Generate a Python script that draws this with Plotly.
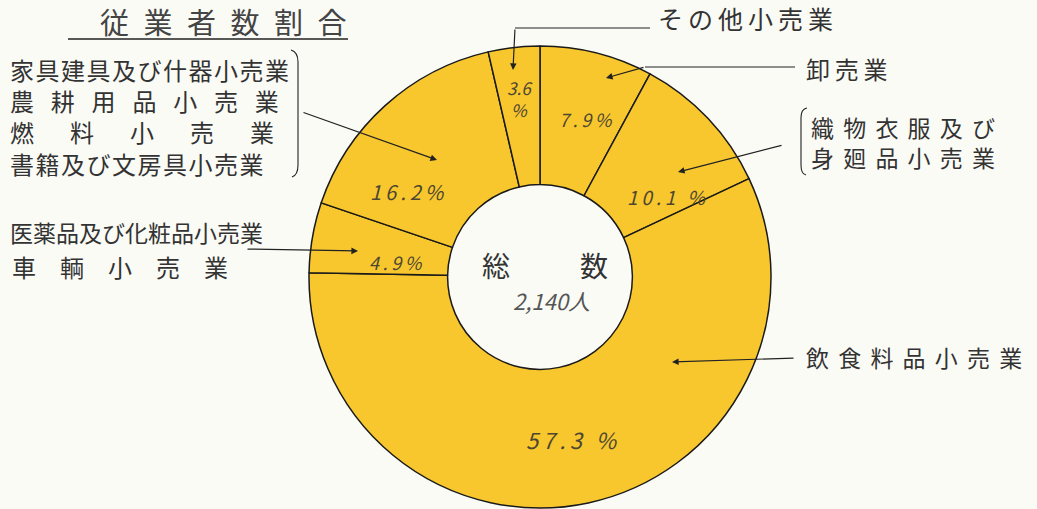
import math
import plotly.graph_objects as go

W, H = 1037, 509

# ---- data (clockwise from 12 o'clock) ----
categories = ["卸売業", "織物衣服及び身廻品小売業", "飲食料品小売業",
              "医薬品及び化粧品小売業・車輌小売業",
              "家具建具及び什器・農耕用品・燃料・書籍及び文房具小売業",
              "その他小売業"]
shares = [7.9, 10.1, 57.3, 4.9, 16.2, 3.6]
pct_labels = ["7.9%", "10.1 %", "57.3 %", "4.9%", "16.2%", "3.6<br>%"]
title_text = "従業者数割合"
center_label = "総\u3000\u3000\u2002数"
total_label = "2,140人"

# label placement nudges (style only): extra degrees, radius in px
label_angle_nudge = [2, 11, 1, -4, -15, 0]
label_radius = [165, 150, 165, 145, 158, 180]
label_size = [18, 19, 22, 18, 20, 17]
label_sep = ["\u2009", "\u2009", "\u2009", "\u2009", "\u2009", ""]

JP = "Noto Sans CJK JP"
INK = "#333333"
FILL = "#F8C72E"

CX, CY = 540, 277
R_OUT = 231


def px(x, y):
    return x / W, 1 - y / H


def spaced(s, sep):
    return sep.join(list(s))


fig = go.Figure()
fig.add_trace(go.Pie(
    labels=categories, values=shares, sort=False, direction="clockwise",
    rotation=0, hole=0.40,
    marker=dict(colors=[FILL] * len(shares), line=dict(color="#1a1a1a", width=1.5)),
    textinfo="none",
    domain=dict(x=[(CX - R_OUT) / W, (CX + R_OUT) / W],
                y=[1 - (CY + R_OUT) / H, 1 - (CY - R_OUT) / H]),
    showlegend=False, hoverinfo="label+percent",
))

ann = []
shapes = []


def text(x, y, s, size=24, anchor="left", italic=False, color=INK):
    xx, yy = px(x, y)
    ann.append(dict(x=xx, y=yy, xref="paper", yref="paper", text=s, showarrow=False,
                    xanchor=anchor, yanchor="middle", align="left" if anchor == "left" else "center",
                    font=dict(family=JP, size=size, color=color,
                              style="italic" if italic else "normal")))


def line(x0, y0, x1, y1, w=1.2):
    a, b = px(x0, y0)
    c, d = px(x1, y1)
    shapes.append(dict(type="line", xref="paper", yref="paper", x0=a, y0=b, x1=c, y1=d,
                       line=dict(color="#222222", width=w)))


def arrow(x0, y0, x1, y1):
    tx, ty = px(x1, y1)
    ann.append(dict(x=tx, y=ty, xref="paper", yref="paper", ax=x0 - x1, ay=y0 - y1,
                    axref="pixel", ayref="pixel", text="", showarrow=True,
                    arrowhead=2, arrowsize=1.1, arrowwidth=1.2, arrowcolor="#222222"))


# percentage labels at slice mid-angles
total = sum(shares)
cum = 0.0
for i, v in enumerate(shares):
    mid = (cum + v / 2) / total * 360 + label_angle_nudge[i]
    cum += v
    a = math.radians(mid)
    r = label_radius[i]
    x = CX + r * math.sin(a)
    y = CY - r * math.cos(a)
    lab = "<br>".join(spaced(part, label_sep[i]) for part in pct_labels[i].split("<br>"))
    text(x, y, lab, size=label_size[i], anchor="center", italic=True, color="#4d4630")

# title
text(98, 21, spaced(title_text, "\u2002"), size=29, color="#444444")
line(68, 39, 348, 39, w=1.4)

# left block 1 (four lines, one annotation)
left_block = "<br>".join([
    spaced("家具建具及び什器小売業", "\u200a"),
    spaced("農耕用品小売業", "\u2002\u2009"),
    spaced("燃料小売業", "\u3000\u2002"),
    spaced("書籍及び文房具小売業", "\u200a"),
])
text(8, 116, left_block, size=24)
shapes.append(dict(type="path", xref="paper", yref="paper",
                   path="M {} {} Q {} {} {} {} L {} {} Q {} {} {} {}".format(
                       *px(291, 50), *px(298, 52), *px(298, 62), *px(298, 165),
                       *px(298, 175), *px(292, 177)),
                   line=dict(color="#222222", width=1.1)))
arrow(302, 112, 437, 160)

# left block 2
text(8, 232, "医薬品及び化粧品小売業", size=23)
text(10, 266, spaced("車輌小売業", "\u3000"), size=24)
arrow(246, 249, 358, 251)

# right callouts
text(656, 18, spaced("その他小売業", "\u2009"), size=25)
line(650, 28, 515, 28)
arrow(515, 28, 513, 70)

text(804, 68, spaced("卸売業", "\u2009"), size=24)
line(795, 67, 645, 67)
arrow(645, 67, 606, 78)

text(809, 142, spaced("織物衣服及び", "\u2009\u2009") + "<br>" +
     spaced("身廻品小売業", "\u2009\u2009"), size=23)
shapes.append(dict(type="path", xref="paper", yref="paper",
                   path="M {} {} Q {} {} {} {} L {} {} Q {} {} {} {}".format(
                       *px(807, 108), *px(801, 109), *px(801, 118), *px(801, 165),
                       *px(801, 174), *px(806, 175)),
                   line=dict(color="#222222", width=1.1)))
arrow(783, 145, 678, 172)

text(804, 357, spaced("飲食料品小売業", "\u2009\u2009"), size=23)
arrow(795, 358, 672, 362)

# centre
text(545, 265, center_label, size=28, anchor="center")
text(551, 300, total_label, size=22, anchor="center", italic=True, color="#555555")

fig.update_layout(
    width=W, height=H, margin=dict(l=0, r=0, t=0, b=0),
    paper_bgcolor="#FBFBF6", plot_bgcolor="#FBFBF6",
    annotations=ann, shapes=shapes,
)
fig.write_html("out.html", config={"displayModeBar": False},
               post_script="document.body.style.margin='0';document.body.style.overflow='hidden';")
